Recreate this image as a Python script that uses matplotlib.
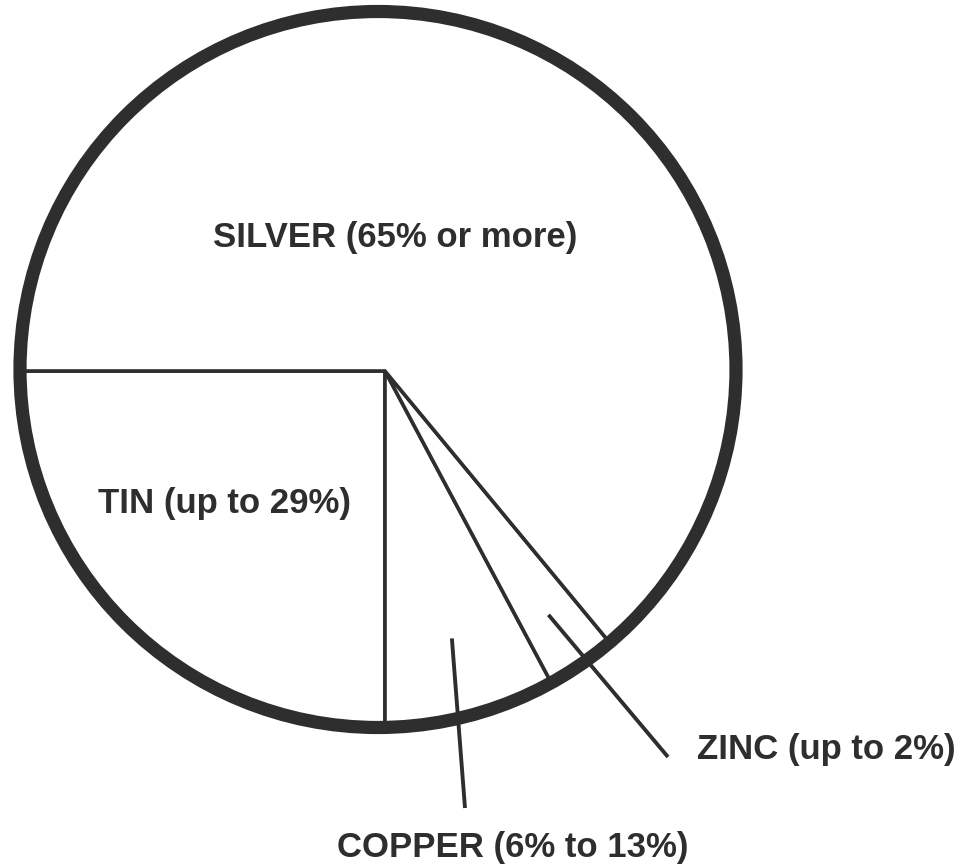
import numpy as np
import matplotlib.pyplot as plt
from matplotlib.patches import Circle

# wedge sizes (percent of the circle)
metals = ['TIN', 'COPPER', 'ZINC', 'SILVER']
shares = [25.0, 7.8, 3.2, 64.0]
labels = ['TIN (up to 29%)', 'COPPER (6% to 13%)', 'ZINC (up to 2%)', 'SILVER (65% or more)']

ink = '#2e2e2e'
W, H = 964, 867

fig = plt.figure(figsize=(W / 100, H / 100), dpi=100)
ax = fig.add_axes([0, 0, 1, 1])

# pie apex sits a little right of the drawn circle's centre
apex = (385, 496)
ring_c = (378, 497.5)
ring_r = 358

wedges, _ = ax.pie(shares, startangle=180, counterclock=True, radius=380,
                   center=apex,
                   wedgeprops=dict(facecolor='white', edgecolor=ink, linewidth=2.6))

ring = Circle(ring_c, ring_r, facecolor='none', edgecolor=ink, linewidth=9.5, zorder=5)
ax.add_patch(ring)
for w in wedges:
    w.set_clip_on(True)
    w.set_clip_path(ring)

ax.set_xlim(0, W)
ax.set_ylim(0, H)
ax.set_aspect('equal')
ax.axis('off')

font = dict(family=['Liberation Sans', 'DejaVu Sans'], fontsize=25, fontweight='bold', color=ink)

# labels inside the big wedges
ax.text(395, H - 238, labels[3], ha='center', va='center', **font)
ax.text(224, H - 503, labels[0], ha='center', va='center', **font)

# leader lines for the two narrow wedges, from inside the wedge out to the label
def inner_point(w, frac):
    mid = np.deg2rad((w.theta1 + w.theta2) / 2)
    return apex[0] + frac * ring_r * np.cos(mid), apex[1] + frac * ring_r * np.sin(mid)

cx, cy = inner_point(wedges[1], 0.77)
ax.plot([cx, 465], [cy, H - 808], color=ink, lw=2.8, solid_capstyle='butt', zorder=6)
ax.text(513, H - 848, labels[1], ha='center', va='center', **font)

zx, zy = inner_point(wedges[2], 0.82)
ax.plot([zx, 668], [zy, H - 757], color=ink, lw=2.8, solid_capstyle='butt', zorder=6)
ax.text(697, H - 750, labels[2], ha='left', va='center', **font)

fig.savefig('out.png', dpi=100, facecolor='white')
